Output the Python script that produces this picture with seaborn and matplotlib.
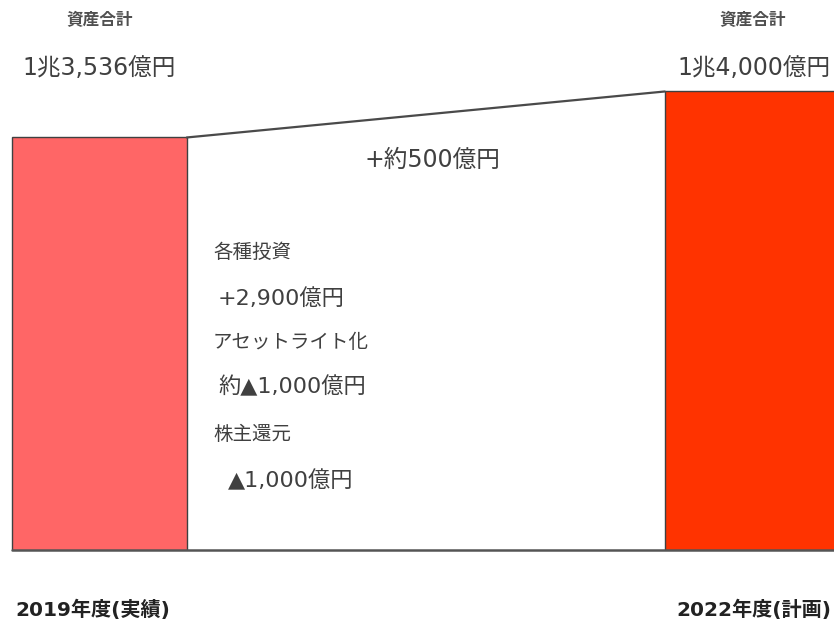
import matplotlib
matplotlib.use("Agg")
import matplotlib.pyplot as plt
import seaborn as sns
import pandas as pd

# ---- data ----
years = ["2019年度(実績)", "2022年度(計画)"]
totals = [13536, 14000]
total_labels = ["1兆3,536億円", "1兆4,000億円"]
header = "資産合計"
diff_label = "+約500億円"
breakdown_titles = ["各種投資", "アセットライト化", "株主還元"]
breakdown_values = ["+2,900億円", "約▲1,000億円", "▲1,000億円"]
bar_colors = ["#FF6666", "#FF3300"]

sns.set_theme(style="white")
plt.rcParams['font.family'] = ['Noto Sans CJK JP', 'DejaVu Sans']
NUMFONT = ['DejaVu Sans', 'Noto Sans CJK JP']

df = pd.DataFrame({"year": years, "total": totals})

W, H = 834, 631
fig = plt.figure(figsize=(W / 100, H / 100), dpi=100)
base_px = 550
ax = fig.add_axes([0, (H - base_px) / H, 1, base_px / H])

sns.barplot(data=df, x="year", y="total", hue="year", palette=bar_colors,
            saturation=1, width=0.268, edgecolor="#404040", linewidth=1.0,
            legend=False, ax=ax)

base = 9375
px_per_unit = 0.09914
ax.set_ylim(base, base + base_px / px_per_unit)
ax.set_xlim(-0.152, 1.125)
for s in ax.spines.values():
    s.set_visible(False)
ax.set_xticks([])
ax.set_yticks([])
ax.set_xlabel("")
ax.set_ylabel("")

p0, p1 = ax.patches[0], ax.patches[1]
# baseline
ax.plot([p0.get_x(), 1.125], [base, base], color="#555555", lw=1.8, clip_on=False, zorder=5)
# connector line
ax.plot([p0.get_x() + p0.get_width(), p1.get_x()], [totals[0], totals[1]],
        color="#4a4a4a", lw=1.6, zorder=5)

tc = "#404040"
trans = ax.get_xaxis_transform()


def ypos(py):
    return 1 - py / base_px


def xdata(px):
    return ax.transData.inverted().transform((px, 0))[0]


for i, p in enumerate([p0, p1]):
    cx = p.get_x() + p.get_width() / 2
    ax.text(cx, ypos(20), header, transform=trans, ha="center", va="center",
            fontsize=12, fontweight="bold", color="#505050")
    ax.text(cx if i == 0 else xdata(831), ypos(68), total_labels[i], transform=trans,
            ha="center" if i == 0 else "right", va="center",
            fontsize=17, color=tc, family=NUMFONT)

# bottom year labels
ax.text(xdata(15), ypos(610), years[0], transform=trans,
        ha="left", va="center", fontsize=14.5, fontweight="bold", color="#222222",
        clip_on=False, family=NUMFONT)
ax.text(xdata(831), ypos(610), years[1], transform=trans,
        ha="right", va="center", fontsize=14.5, fontweight="bold", color="#222222",
        clip_on=False, family=NUMFONT)

mid_x = (p0.get_x() + p0.get_width() + p1.get_x()) / 2
ax.text(mid_x + 0.01, ypos(160), diff_label, transform=trans, ha="center", va="center",
        fontsize=17, color=tc, family=NUMFONT)

title_y = [252, 342, 435]
val_y = [298, 387, 481]
val_x = [218, 218, 228]
for t, v, ty, vy, vx in zip(breakdown_titles, breakdown_values, title_y, val_y, val_x):
    ax.text(xdata(213), ypos(ty), t, transform=trans, ha="left", va="center",
            fontsize=14, color=tc)
    ax.text(xdata(vx), ypos(vy), v, transform=trans, ha="left", va="center",
            fontsize=16, color=tc, family=NUMFONT)

fig.savefig("out.png", dpi=100)
